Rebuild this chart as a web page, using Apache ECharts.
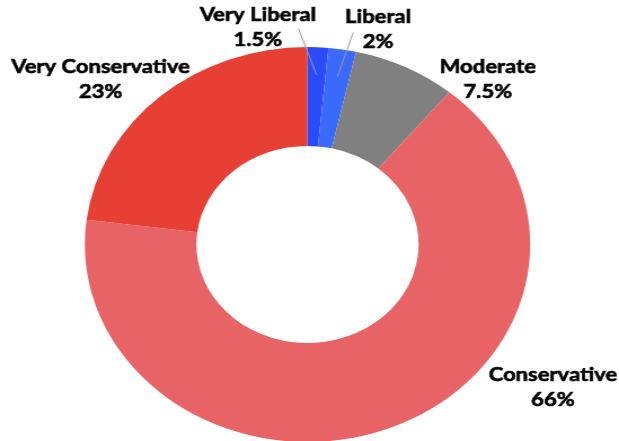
<!DOCTYPE html>
<html>
<head>
<meta charset="utf-8">
<script src="https://cdn.jsdelivr.net/npm/echarts@6/dist/echarts.min.js"></script>
<style>
  html, body { margin: 0; padding: 0; background: #ffffff; overflow: hidden; }
  #wrap { width: 619px; height: 441px; overflow: hidden; position: relative; }
  /* the donut is drawn as a horizontally widened ellipse */
  #chart { width: 549px; height: 441px; transform: scaleX(1.1275); transform-origin: 0 0; }
</style>
</head>
<body>
<div id="wrap"><div id="chart"></div></div>
<script>
// Ideology breakdown
const categories = ['Very Liberal', 'Liberal', 'Moderate', 'Conservative', 'Very Conservative'];
const shares = [1.5, 2, 7.5, 66, 23];
const sliceColors = ['#2A4BFA', '#3A6AFB', '#808080', '#E86365', '#E73F33'];

// label distance from the ring for the large slices (no visible leader)
const labelLead = {
  'Moderate': { length: 14, length2: 79 },
  'Conservative': { length: -16, length2: 161 },
  'Very Conservative': { length: 50, length2: 38 }
};
// small slices: label sits above the ring, a thin leader runs from the slice to it
const calloutOffset = {
  'Very Liberal': { label: [-52, -47.5], line: [-16, -46] },
  'Liberal': { label: [36, -47], line: [14, -44] }
};

const center = [272.7, 244.5];

const sliceData = categories.map((name, i) => ({
  name: name,
  value: shares[i],
  itemStyle: { color: sliceColors[i] }
}));

const labelData = categories.map((name, i) => {
  const lead = labelLead[name];
  return {
    name: name,
    value: shares[i],
    labelLine: lead
      ? { show: false, length: lead.length, length2: lead.length2 }
      : { show: true, length: 10, length2: 10 }
  };
});

const chart = echarts.init(document.getElementById('chart'), null, { renderer: 'canvas' });

chart.setOption({
  animation: false,
  series: [
    {
      type: 'pie',
      radius: [98.5, 197.5],
      center: center,
      startAngle: 90,
      clockwise: true,
      silent: true,
      label: { show: false },
      labelLine: { show: false },
      data: sliceData
    },
    {
      // invisible companion ring carrying the labels and leaders
      type: 'pie',
      radius: [0, 170],
      center: center,
      startAngle: 90,
      clockwise: true,
      silent: true,
      z: 3,
      avoidLabelOverlap: false,
      itemStyle: { color: 'rgba(0,0,0,0)' },
      label: {
        show: true,
        position: 'outside',
        formatter: p => p.name + '\n' + p.value + '%',
        fontFamily: 'Lato',
        fontWeight: 'bold',
        fontSize: 19.5,
        lineHeight: 25,
        color: '#000000',
        textBorderColor: '#000000',
        textBorderWidth: 0.6,
        distanceToLabelLine: 0
      },
      labelLine: { show: true, lineStyle: { color: '#9a9a9a', width: 1 } },
      labelLayout: function (params) {
        const name = categories[params.dataIndex];
        const co = calloutOffset[name];
        const out = { align: 'center', verticalAlign: 'middle' };
        if (!co || !params.labelLinePoints) return out;
        const p0 = params.labelLinePoints[0];
        out.x = p0[0] + co.label[0];
        out.y = p0[1] + co.label[1];
        out.labelLinePoints = [
          [p0[0], p0[1]],
          [p0[0] + co.line[0], p0[1] + co.line[1]]
        ];
        return out;
      },
      data: labelData
    }
  ]
});
</script>
</body>
</html>
